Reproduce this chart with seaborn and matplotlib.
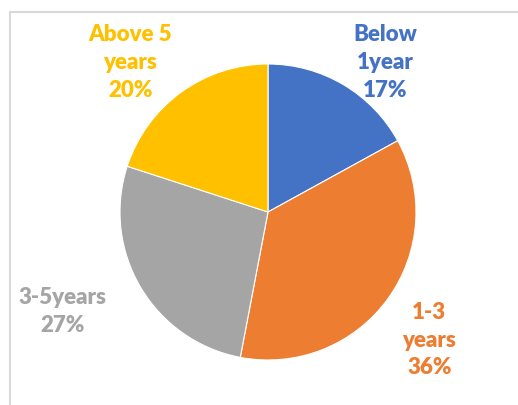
import matplotlib
matplotlib.use("Agg")
import matplotlib.pyplot as plt
import seaborn as sns
from matplotlib.patches import Rectangle

sns.set_theme(style="white")
plt.rcParams['font.family'] = ['Lato', 'DejaVu Sans']

categories = ["Below\n1year", "1-3\nyears", "3-5years", "Above 5\nyears"]
values = [17, 36, 27, 20]
colors = ["#4472C4", "#ED7D31", "#A5A5A5", "#FFC000"]
label_pos = [(0.79, 1.01), (1.09, -0.865), (-1.39, -0.67), (-0.93, 1.01)]

W, H = 518, 405
fig = plt.figure(figsize=(W / 100, H / 100), dpi=100)
fig.patch.set_facecolor("white")

cx, cy, r = 268, 212, 148
ax = fig.add_axes([(cx - r) / W, (H - cy - r) / H, 2 * r / W, 2 * r / H])
wedges, _ = ax.pie(values, colors=colors, startangle=90, counterclock=False,
                   radius=1, wedgeprops=dict(edgecolor="white", linewidth=0.8))
ax.set_xlim(-1, 1)
ax.set_ylim(-1, 1)
ax.set_aspect("equal")
ax.axis("off")

for cat, val, col, (lx, ly) in zip(categories, values, colors, label_pos):
    ax.text(lx, ly, f"{cat}\n{val}%", color=col, ha="center", va="center",
            fontsize=16, fontweight="heavy", linespacing=1.4, clip_on=False)

fig.patches.append(Rectangle((10 / W, -0.1), 1.2, (H - 12) / H + 0.1,
                             transform=fig.transFigure, fill=False,
                             edgecolor="#d9d9d9", linewidth=1.5))

fig.savefig("out.png", dpi=100)
